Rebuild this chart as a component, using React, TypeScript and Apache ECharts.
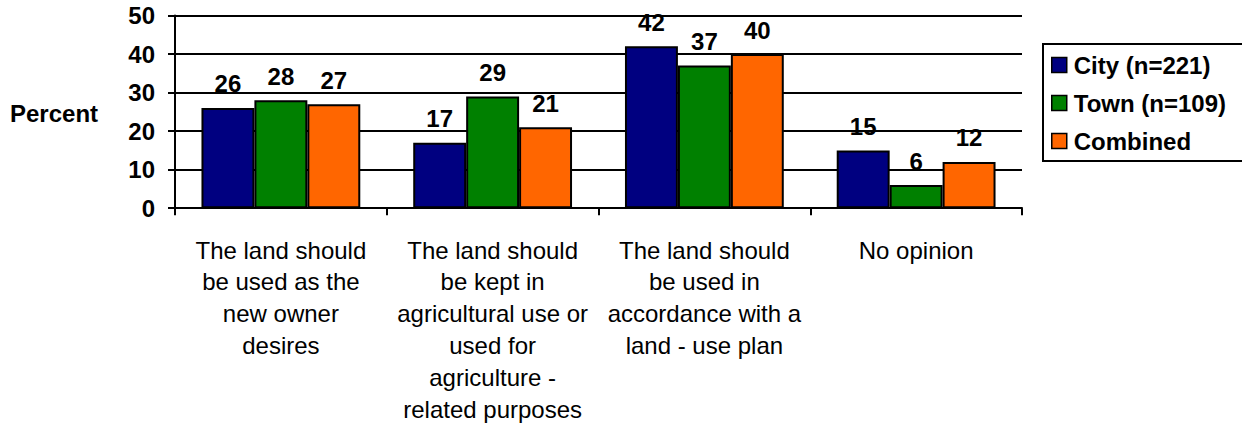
import React, { useEffect, useRef } from "react";
import * as echarts from "echarts";

const categories = [
  "The land should\nbe used as the\nnew owner\ndesires",
  "The land should\nbe kept in\nagricultural use or\nused for\nagriculture -\nrelated purposes",
  "The land should\nbe used in\naccordance with a\nland - use plan",
  "No opinion",
];
const seriesNames = ["City (n=221)", "Town (n=109)", "Combined"];
const cityValues = [26, 17, 42, 15];
const townValues = [28, 29, 37, 6];
const combinedValues = [27, 21, 40, 12];
const colors = ["#000080", "#008000", "#FF6600"];
const yTicks = { min: 0, max: 50, interval: 10 };

const FONT = "'Liberation Sans', Arial, Helvetica, sans-serif";

export default function App() {
  const ref = useRef<HTMLDivElement>(null);
  useEffect(() => {
    if (!ref.current) return;
    const chart = echarts.init(ref.current, null, { renderer: "svg" });
    const values = [cityValues, townValues, combinedValues];
    chart.setOption({
      animation: false,
      backgroundColor: "#ffffff",
      textStyle: { fontFamily: FONT },
      grid: { left: 175, right: 220, top: 15.5, bottom: 212.5, containLabel: false },
      graphic: [
        {
          type: "text",
          left: 10,
          top: 101,
          style: { text: "Percent", font: `bold 24px ${FONT}`, fill: "#000" },
        },
      ],
      legend: {
        orient: "vertical",
        left: 1043,
        top: 44,
        data: seriesNames,
        icon: "rect",
        itemWidth: 15,
        itemHeight: 15,
        itemGap: 14,
        itemStyle: { borderColor: "#000", borderWidth: 1.5 },
        borderColor: "#000",
        borderWidth: 2,
        padding: [9, 22, 8, 8],
        textStyle: { fontFamily: FONT, fontSize: 24, fontWeight: "bold", color: "#000", padding: [0, 0, 0, 2] },
      },
      xAxis: {
        type: "category",
        data: categories,
        axisLine: { show: true, lineStyle: { color: "#000", width: 2 } },
        axisTick: { show: true, length: 7, lineStyle: { color: "#000", width: 2 } },
        axisLabel: {
          interval: 0,
          margin: 26,
          color: "#000",
          fontFamily: FONT,
          fontSize: 24,
          lineHeight: 31.8,
          align: "center",
        },
      },
      yAxis: {
        type: "value",
        min: yTicks.min,
        max: yTicks.max,
        interval: yTicks.interval,
        axisLine: { show: true, lineStyle: { color: "#000", width: 2 } },
        axisTick: { show: true, length: 7, lineStyle: { color: "#000", width: 2 } },
        splitLine: { show: true, lineStyle: { color: "#000", width: 2 } },
        axisLabel: { margin: 20, color: "#000", fontFamily: FONT, fontSize: 24, fontWeight: "bold" },
      },
      series: seriesNames.map((name, i) => ({
        name,
        type: "bar",
        data: values[i],
        barGap: "0%",
        barCategoryGap: "25%",
        itemStyle: { color: colors[i], borderColor: "#000", borderWidth: 2 },
        label: {
          show: true,
          position: "top",
          distance: 12,
          color: "#000",
          fontFamily: FONT,
          fontSize: 24,
          fontWeight: "bold",
        },
      })),
    });
    return () => chart.dispose();
  }, []);
  return (
    <div
      ref={ref}
      style={{ position: "fixed", left: 0, top: 0, width: 1242, height: 425, background: "#fff" }}
    />
  );
}
